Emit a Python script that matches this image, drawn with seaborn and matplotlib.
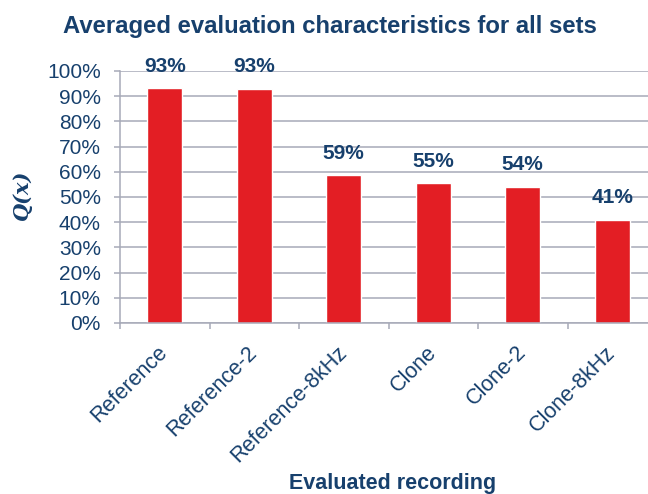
import numpy as np
import matplotlib
matplotlib.use("Agg")
import matplotlib.pyplot as plt
import seaborn as sns

# Averaged Q(x) per evaluated recording, in percent
recordings = ["Reference", "Reference-2", "Reference-8kHz", "Clone", "Clone-2", "Clone-8kHz"]
scores = [93.1, 93.0, 58.6, 55.4, 54.0, 40.9]
y_ticks = [0, 10, 20, 30, 40, 50, 60, 70, 80, 90, 100]

title = "Averaged evaluation characteristics for all sets"
x_title = "Evaluated recording"
y_title = "Q(x)"

sns.set_style("white")
plt.rcParams["font.family"] = ["Liberation Sans", "DejaVu Sans"]

navy = "#17406D"
bar_red = "#E31E24"
grid_grey = "#A7AAB8"

fig = plt.figure(figsize=(6.48, 4.94), dpi=100)
ax = fig.add_axes([120 / 648, 171 / 494, 537 / 648, 252 / 494])

sns.barplot(x=recordings, y=scores, color=bar_red, saturation=1,
            width=0.39, ax=ax)

ax.set_xlim(-0.5, len(recordings) - 0.5)
ax.set_ylim(0, 100)
ax.set_yticks(y_ticks)
ax.set_yticklabels([f"{t}%" for t in y_ticks], fontsize=15, color=navy)
ax.yaxis.grid(True, color=grid_grey, linewidth=1.1)
ax.set_axisbelow(True)

for side in ("top", "right"):
    ax.spines[side].set_visible(False)
for side in ("left", "bottom"):
    ax.spines[side].set_color(grid_grey)
    ax.spines[side].set_linewidth(1.1)

ax.tick_params(axis="y", left=True, length=4.3, width=1.1, color=grid_grey, pad=9.5)

ax.set_xticks(range(len(recordings)))
ax.set_xticklabels(recordings, rotation=45, ha="right", va="center",
                   rotation_mode="anchor", fontsize=15.5, color=navy)
ax.tick_params(axis="x", which="major", length=0, pad=19)
ax.set_xticks(np.arange(-0.5, len(recordings), 1), minor=True)
ax.tick_params(axis="x", which="minor", bottom=True, length=4.3, width=1.1, color=grid_grey)
ax.set_xlabel("")
ax.set_ylabel("")

for i, v in enumerate(scores):
    ax.annotate(f"{v:.0f}%", xy=(i, v), xytext=(0, 12), textcoords="offset points",
                ha="center", va="baseline", fontsize=15, fontweight="bold", color=navy)

fig.text(330 / 648, 1 - 32.7 / 494, title, ha="center", va="baseline",
         fontsize=17.2, fontweight="bold", color=navy)
fig.text(393 / 648, 5 / 494, x_title, ha="center", va="baseline",
         fontsize=15.5, fontweight="bold", color=navy)
fig.text(22 / 648, 1 - 195 / 494, y_title, ha="center", va="center", rotation=90,
         fontsize=15, fontweight="bold", fontstyle="italic", family="DejaVu Serif",
         color=navy)

fig.savefig("out.png", dpi=100)
